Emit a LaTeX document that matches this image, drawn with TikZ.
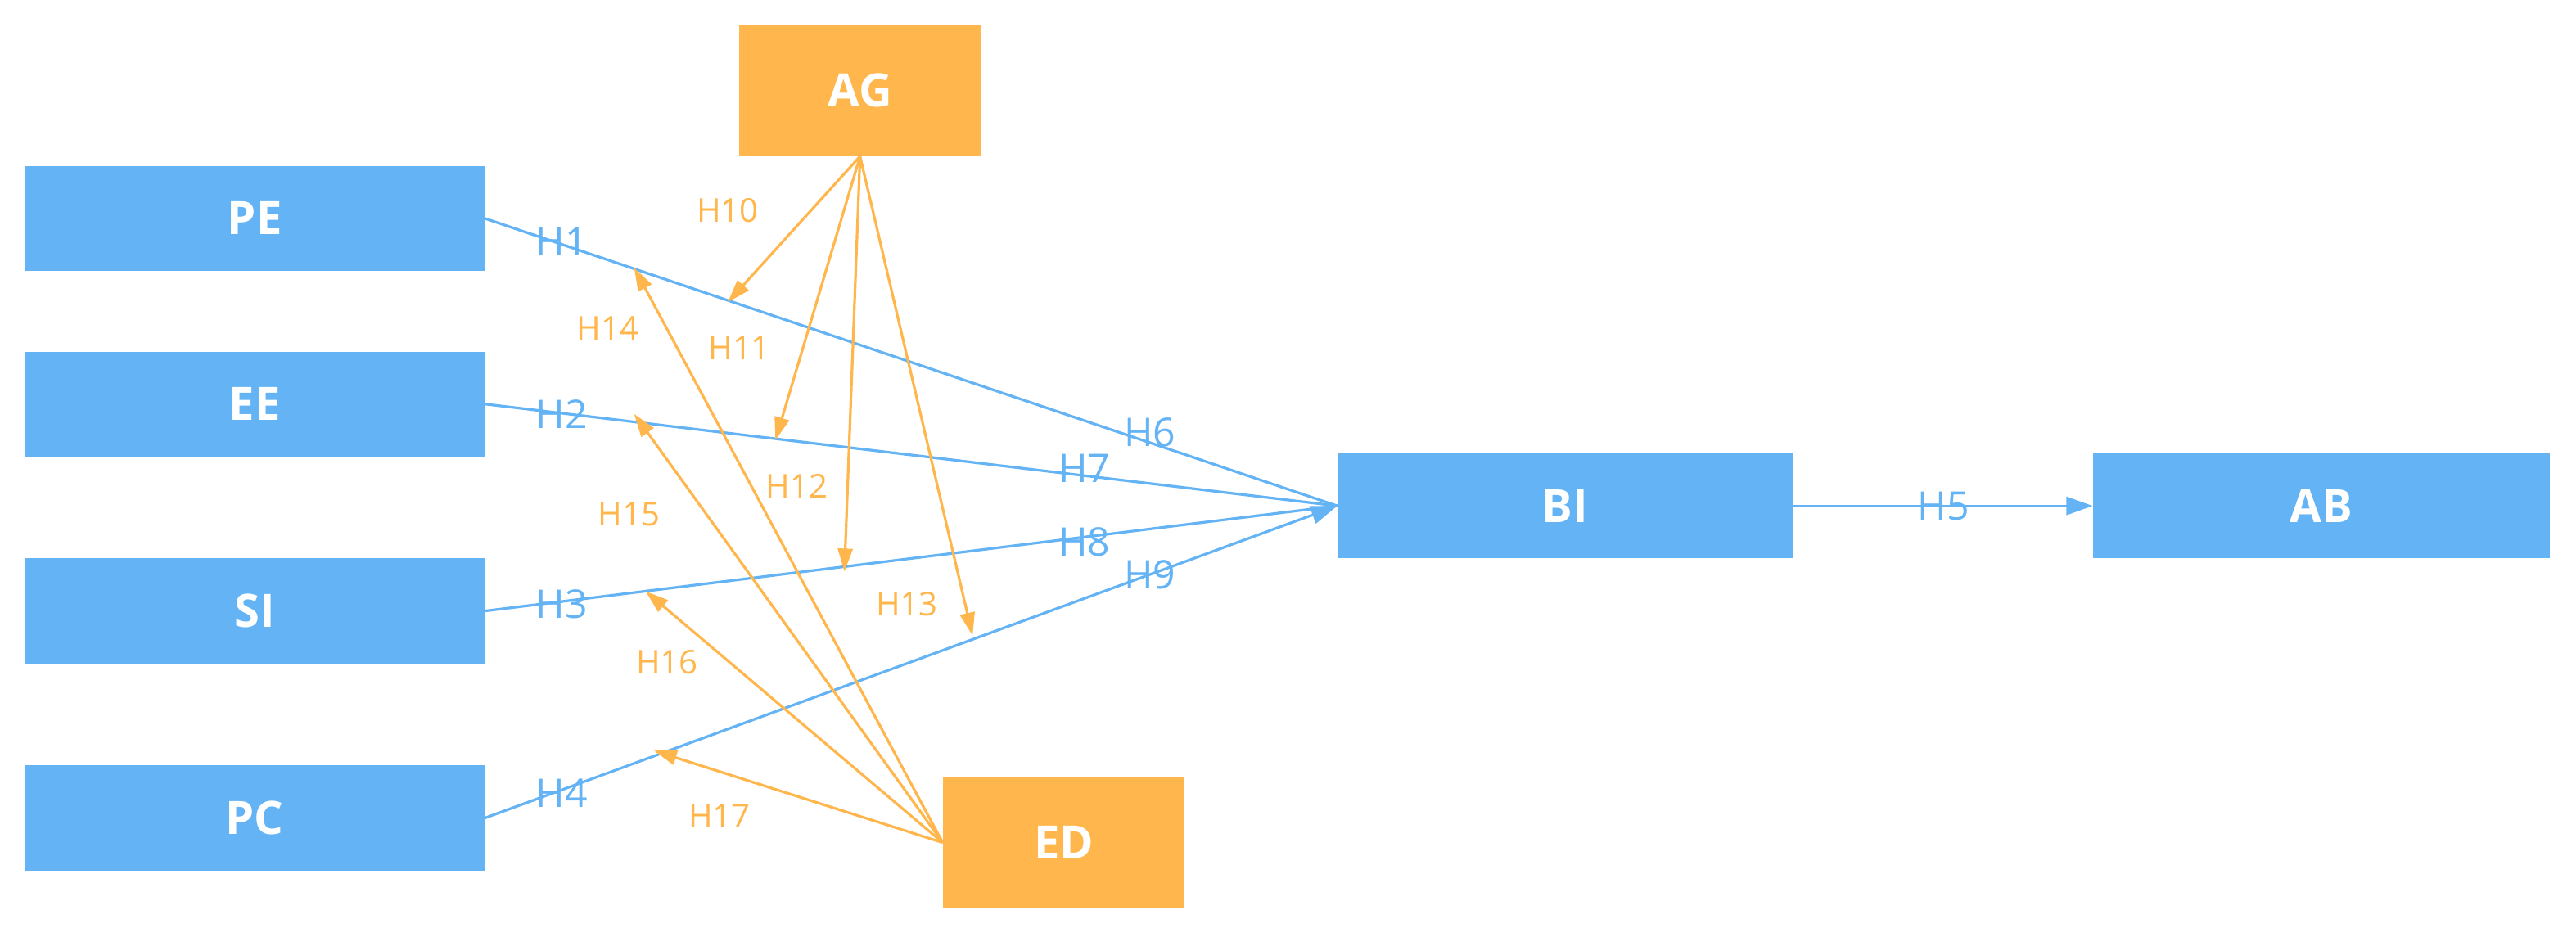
\documentclass[tikz,border=0pt]{standalone}
\usepackage{fontspec}
\setmainfont{Open Sans}
\usetikzlibrary{arrows.meta}
\definecolor{bl}{HTML}{63B3F5}
\definecolor{og}{HTML}{FFB74D}
\begin{document}
\begin{tikzpicture}[x=1pt,y=-1pt,
 box/.style={fill=#1,draw=none,minimum width=280pt,minimum height=64pt,inner sep=0,text=white,font=\fontsize{28}{30}\selectfont\bfseries},
 obox/.style={fill=og,draw=none,minimum width=147pt,minimum height=80pt,inner sep=0,text=white,font=\fontsize{28}{30}\selectfont\bfseries},
 bline/.style={draw=bl,line width=1.6pt},
 oline/.style={draw=og,line width=1.6pt,-{Triangle[length=14pt,width=9pt]}},
 bl lab/.style={text=bl,font=\fontsize{24}{26}\selectfont,inner sep=0},
 og lab/.style={text=og,font=\fontsize{20}{22}\selectfont,inner sep=0}]
\useasboundingbox (0,0) rectangle (1568,565);
\node[box=bl] (PE) at (155,133) {PE};
\node[box=bl] (EE) at (155,246) {EE};
\node[box=bl] (SI) at (155,372) {SI};
\node[box=bl] (PC) at (155,498) {PC};
\node[box=bl,minimum width=277pt] (BI) at (952.5,308) {BI};
\node[box=bl,minimum width=278pt] (AB) at (1413,308) {AB};
\node[obox] (AG) at (523.5,55) {AG};
\node[obox] (ED) at (647.5,513) {ED};
\coordinate (T) at (814,308);
\draw[bline] (PE.east) -- (T);
\draw[bline] (EE.east) -- (T);
\draw[bline] (SI.east) -- (T);
\draw[bline,-{Triangle[length=16pt,width=11pt]}] (PC.east) -- (T);
\draw[bline,-{Triangle[length=16pt,width=11pt]}] (BI.east) -- (AB.west);
\coordinate (a10) at (443,184);
\coordinate (a11) at (472,268);
\coordinate (a12) at (514,348);
\coordinate (a13) at (592,387);
\coordinate (e14) at (386,163);
\coordinate (e15) at (386,252);
\coordinate (e16) at (393,360);
\coordinate (e17) at (398,457);
\foreach \t in {a10,a11,a12,a13} \draw[oline] (AG.south) -- (\t);
\foreach \t in {e14,e15,e16,e17} \draw[oline] (ED.west) -- (\t);
\node[bl lab] (H1) at (342,147) {H1};
\node[bl lab] (H2) at (342,252) {H2};
\node[bl lab] (H3) at (342,368) {H3};
\node[bl lab] (H4) at (342,483) {H4};
\node[bl lab] (H6) at (700,263) {H6};
\node[bl lab] (H7) at (660,285) {H7};
\node[bl lab] (H8) at (660,330) {H8};
\node[bl lab] (H9) at (700,350) {H9};
\node[bl lab] (H5) at (1183,308) {H5};
\node[og lab] (H10) at (443,128) {H10};
\node[og lab] (H11) at (450,212) {H11};
\node[og lab] (H12) at (485,296) {H12};
\node[og lab] (H13) at (552,368) {H13};
\node[og lab] (H14) at (370,200) {H14};
\node[og lab] (H15) at (383,313) {H15};
\node[og lab] (H16) at (406,403) {H16};
\node[og lab] (H17) at (438,497) {H17};
\end{tikzpicture}
\end{document}
